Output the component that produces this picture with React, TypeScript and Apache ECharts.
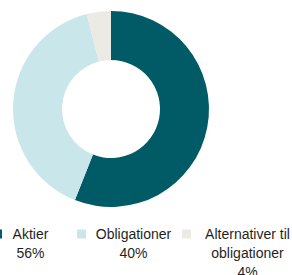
import React, { useEffect, useRef } from "react";
import * as echarts from "echarts";

const categories = ["Aktier", "Obligationer", "Alternativer til obligationer"];
const labelLines = [["Aktier"], ["Obligationer"], ["Alternativer til", "obligationer"]];
const values = [56, 40, 4];
const colors = ["#005B66", "#C9E6EA", "#EBEAE4"];

const FONT = "'Liberation Sans', Arial, sans-serif";
const LH = 19;

export default function App() {
  const ref = useRef<HTMLDivElement>(null);
  useEffect(() => {
    document.body.style.margin = "0";
    const chart = echarts.init(ref.current!, null, { renderer: "svg" });
    const iconLeft = [-7, 77, 182];
    const boxWidth = [47, 85, 103];
    const legends = categories.map((name, i) => {
      const lines = [...labelLines[i], values[i] + "%"];
      const H = lines.length * LH;
      const p = H - LH;
      const c = 234;
      return {
        data: [name],
        left: iconLeft[i],
        top: c - (p + H) / 2,
        padding: 0,
        itemWidth: 9,
        itemHeight: 9,
        icon: "rect",
        formatter: () => lines.map((l) => `{a|${l}}`).join("\n"),
        textStyle: {
          padding: [p, 0, 0, 0],
          color: "#1f1f1f",
          fontFamily: FONT,
          fontSize: 14,
          lineHeight: LH,
          rich: {
            a: {
              width: boxWidth[i],
              align: "center",
              fontFamily: FONT,
              fontSize: 14,
              lineHeight: LH,
              color: "#1f1f1f",
            },
          },
        },
      };
    });
    chart.setOption({
      animation: false,
      color: colors,
      legend: legends,
      series: [
        {
          type: "pie",
          center: [111, 109],
          radius: [49, 98],
          startAngle: 90,
          clockwise: true,
          label: { show: false },
          labelLine: { show: false },
          emphasis: { disabled: true },
          data: categories.map((name, i) => ({ name, value: values[i] })),
        },
      ],
    });
    return () => chart.dispose();
  }, []);
  return <div ref={ref} style={{ width: 292, height: 275 }} />;
}
